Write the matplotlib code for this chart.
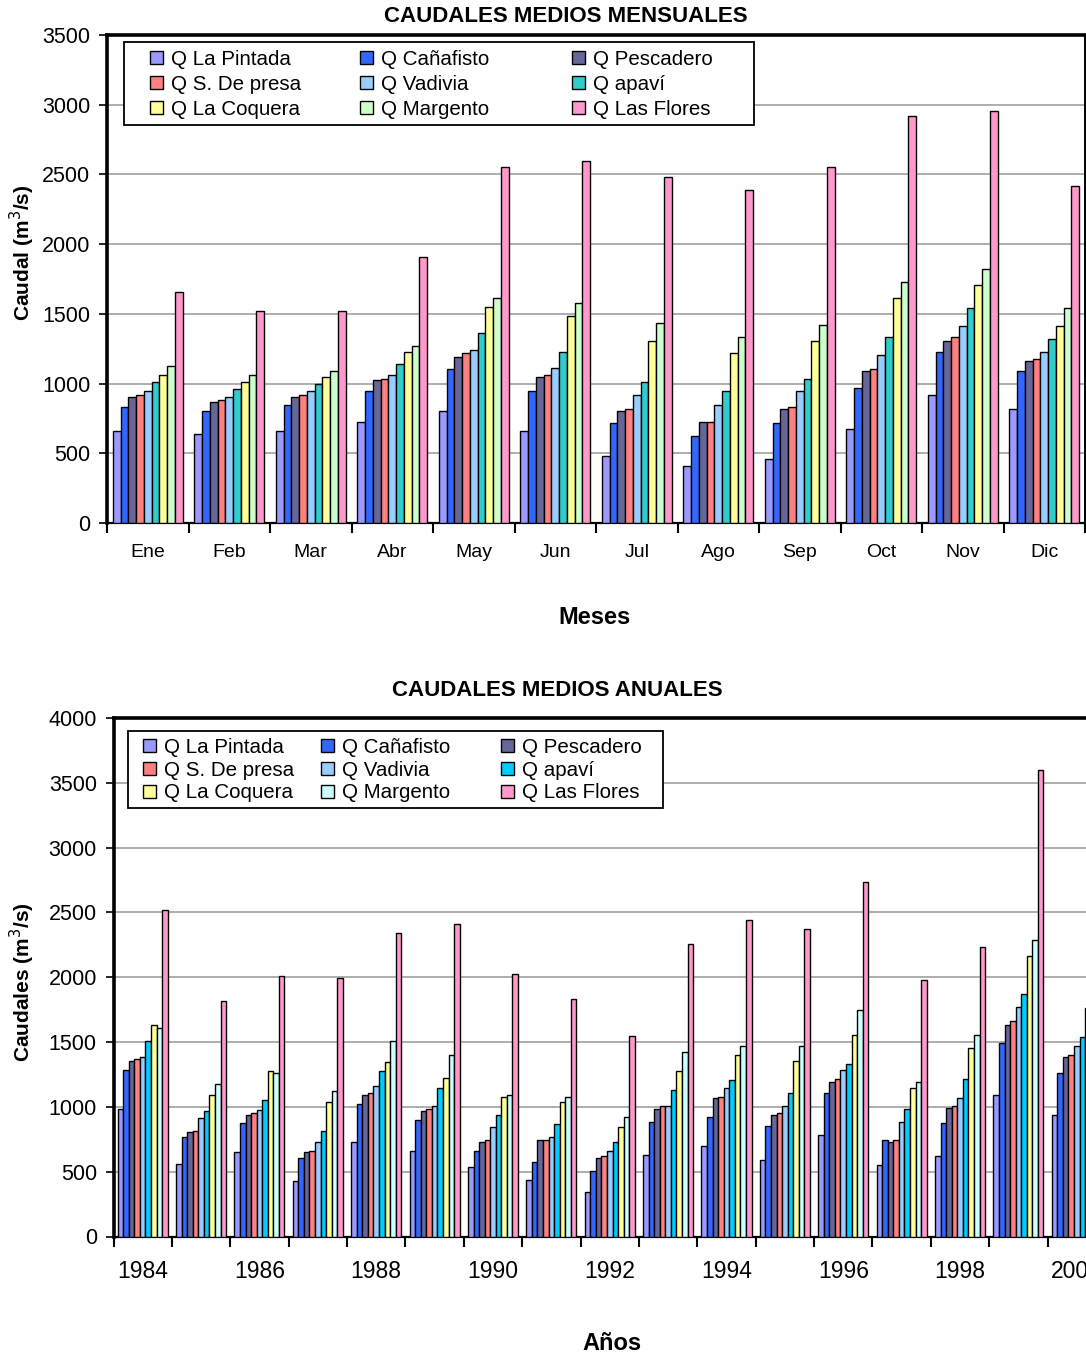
import numpy as np
import matplotlib.pyplot as plt
from matplotlib.patches import Patch, Rectangle

plt.rcParams['font.family'] = ['Liberation Sans', 'DejaVu Sans']

# --- datos mensuales (m3/s) ---
meses = ["Ene", "Feb", "Mar", "Abr", "May", "Jun", "Jul", "Ago", "Sep", "Oct", "Nov", "Dic"]
pintada_m   = [662, 638, 662, 727, 806, 662, 483, 406, 457, 677, 921, 818]
canafisto_m = [830, 806, 844, 947, 1102, 947, 715, 624, 715, 971, 1229, 1088]
pescadero_m = [906, 870, 906, 1023, 1188, 1050, 806, 727, 818, 1088, 1308, 1164]
presa_m     = [918, 882, 918, 1035, 1217, 1062, 818, 727, 830, 1102, 1332, 1179]
vadivia_m   = [947, 906, 947, 1062, 1241, 1114, 921, 844, 947, 1205, 1411, 1229]
apavi_m     = [1009, 959, 997, 1141, 1361, 1229, 1011, 947, 1035, 1332, 1540, 1320]
coquera_m   = [1062, 1011, 1050, 1229, 1552, 1487, 1308, 1217, 1308, 1617, 1705, 1411]
margento_m  = [1126, 1064, 1088, 1270, 1617, 1576, 1437, 1332, 1423, 1731, 1822, 1540]
flores_m    = [1655, 1523, 1523, 1910, 2556, 2594, 2480, 2389, 2556, 2917, 2958, 2418]

# --- datos anuales (m3/s) ---
anios = list(range(1984, 2001))
pintada_a   = [980, 563, 650, 427, 731, 663, 537, 438, 341, 631, 702, 592, 786, 550, 618, 1094, 940]
canafisto_a = [1283, 770, 872, 605, 1024, 898, 660, 576, 508, 882, 924, 856, 1104, 744, 872, 1494, 1261]
pescadero_a = [1353, 804, 940, 650, 1094, 966, 731, 744, 605, 982, 1065, 940, 1191, 731, 995, 1635, 1384]
presa_a     = [1368, 814, 953, 663, 1104, 982, 744, 744, 618, 1008, 1078, 953, 1217, 744, 1008, 1661, 1400]
vadivia_a   = [1381, 911, 979, 731, 1162, 1008, 841, 770, 660, 1008, 1147, 1008, 1288, 885, 1065, 1774, 1468]
apavi_a     = [1507, 966, 1050, 814, 1275, 1147, 937, 869, 731, 1133, 1204, 1104, 1329, 982, 1217, 1868, 1536]
coquera_a   = [1632, 1094, 1275, 1039, 1343, 1220, 1078, 1037, 841, 1275, 1398, 1355, 1551, 1149, 1455, 2163, 1761]
margento_a  = [1606, 1175, 1259, 1120, 1510, 1398, 1092, 1078, 924, 1426, 1468, 1468, 1748, 1191, 1551, 2286, 1831]
flores_a    = [2518, 1816, 2009, 1996, 2341, 2412, 2022, 1829, 1549, 2260, 2438, 2370, 2731, 1980, 2231, 3596, 2400]

nombres = ["Q La Pintada", "Q Cañafisto", "Q Pescadero", "Q S. De presa", "Q Vadivia",
           "Q apaví", "Q La Coquera", "Q Margento", "Q Las Flores"]
colores_m = ["#9999FF", "#3366FF", "#666699", "#FF8080", "#99CCFF",
             "#33CCCC", "#FFFF99", "#CCFFCC", "#FF99CC"]
colores_a = ["#9999FF", "#3366FF", "#666699", "#FF8080", "#99CCFF",
             "#00CCFF", "#FFFF99", "#CCFFFF", "#FF99CC"]

series_m = [pintada_m, canafisto_m, pescadero_m, presa_m, vadivia_m,
            apavi_m, coquera_m, margento_m, flores_m]
series_a = [pintada_a, canafisto_a, pescadero_a, presa_a, vadivia_a,
            apavi_a, coquera_a, margento_a, flores_a]

W, H = 1086, 1353
fig = plt.figure(figsize=(W / 100, H / 100), dpi=100)
fs_leg = 14.8


def grafico(ax, series, colores, ymax, labels, fs_x, pad_x):
    n = len(series[0])
    x = np.arange(n)
    w = 1 / 10.5
    for j, (vals, c) in enumerate(zip(series, colores)):
        ax.bar(x + (j - 4) * w, vals, w, color=c, edgecolor='black', linewidth=1.0, zorder=3)
    ax.set_xlim(-0.5, n - 0.5)
    ax.set_ylim(0, ymax)
    ax.set_yticks(np.arange(0, ymax + 1, 500))
    ax.yaxis.grid(True, color='#A0A0A0', linewidth=1.2, zorder=0)
    ax.set_xticks(np.arange(-0.5, n, 1))
    ax.set_xticklabels([])
    ax.set_xticks(x, minor=True)
    ax.set_xticklabels(labels, minor=True)
    ax.tick_params(axis='x', which='major', direction='out', length=7, width=1.5)
    ax.tick_params(axis='x', which='minor', length=0, pad=pad_x, labelsize=fs_x)
    ax.tick_params(axis='y', direction='out', length=6, width=1.2, labelsize=15.5, pad=6)
    ax.spines['top'].set_linewidth(2.6)
    ax.spines['left'].set_linewidth(2.6)
    ax.spines['right'].set_linewidth(1.4)
    ax.spines['bottom'].set_linewidth(1.6)


def leyenda(ax, colores, caja, cols_x, y0, paso):
    # marco
    x0, y_top, x1, y_bot = caja
    fig.patches.append(Rectangle((x0 / W, 1 - y_bot / H), (x1 - x0) / W, (y_bot - y_top) / H,
                                 transform=fig.transFigure, facecolor='white',
                                 edgecolor='black', linewidth=1.3, zorder=4))
    # una columna por cada tres series (orden por filas)
    for c, xc in enumerate(cols_x):
        idx = [c, c + 3, c + 6]
        hs = [Patch(facecolor=colores[i], edgecolor='black', linewidth=1.0) for i in idx]
        leg = fig.legend(hs, [nombres[i] for i in idx], loc='upper left',
                         bbox_to_anchor=(xc / W, 1 - y0 / H), fontsize=fs_leg,
                         frameon=False, handlelength=0.62, handleheight=0.62,
                         handletextpad=0.4, labelspacing=paso, borderpad=0,
                         borderaxespad=0)
        leg.set_zorder(5)


# grafico mensual
ax1 = fig.add_axes([107 / W, 1 - 523 / H, (1085 - 107) / W, (523 - 35) / H])
grafico(ax1, series_m, colores_m, 3500, meses, 14, 15)
leyenda(ax1, colores_m, (124, 42, 754, 125), [150, 360, 572], 50, 0.28)

# grafico anual
ax2 = fig.add_axes([113.5 / W, 1 - 1236.5 / H, (1106 - 113.5) / W, (1236.5 - 718) / H])
etiquetas = [str(a) if a % 2 == 0 else "" for a in anios]
grafico(ax2, series_a, colores_a, 4000, etiquetas, 16.5, 17)
ax2.spines['right'].set_visible(False)
leyenda(ax2, colores_a, (128, 731, 663, 808), [143, 321, 501], 738, 0.18)

fig.text(566 / W, 1 - 17 / H, "CAUDALES MEDIOS MENSUALES", ha='center', va='center',
         fontsize=16, fontweight='bold')
fig.text(557 / W, 1 - 691 / H, "CAUDALES MEDIOS ANUALES", ha='center', va='center',
         fontsize=16, fontweight='bold')
fig.text(22 / W, 1 - 253 / H, "Caudal (m$^3$/s)", rotation=90, ha='center', va='center',
         fontsize=15, fontweight='bold')
fig.text(22 / W, 1 - 982 / H, "Caudales (m$^3$/s)", rotation=90, ha='center', va='center',
         fontsize=15, fontweight='bold')
fig.text(594 / W, 1 - 618 / H, "Meses", ha='center', va='center', fontsize=17, fontweight='bold')
fig.text(612 / W, 1 - 1343 / H, "Años", ha='center', va='center', fontsize=17, fontweight='bold')

fig.savefig('out.png', dpi=100)
